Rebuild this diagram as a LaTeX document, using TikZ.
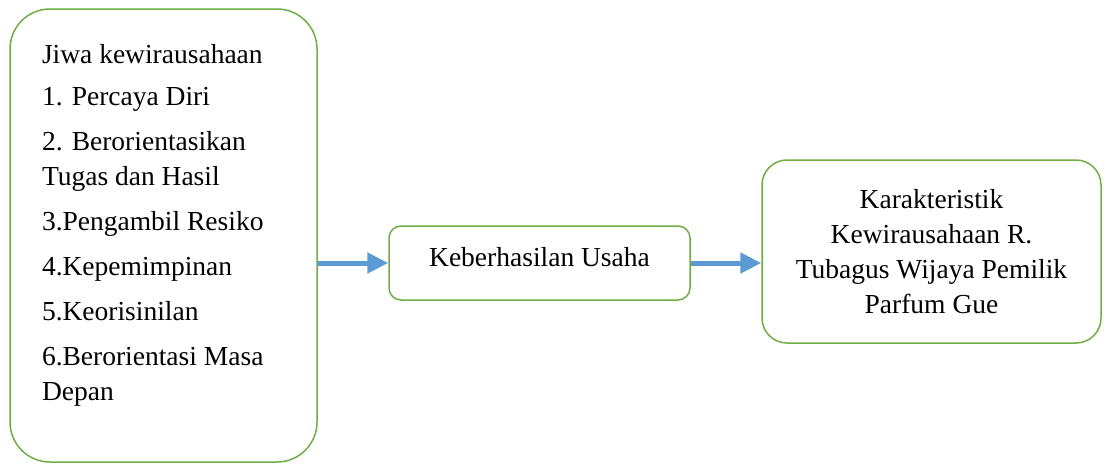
\documentclass[tikz,border=0pt]{standalone}
\usepackage{fontspec}
\setmainfont{Liberation Serif}
\usetikzlibrary{arrows.meta}
\definecolor{boxgreen}{RGB}{112,173,71}
\definecolor{arrowblue}{RGB}{91,155,213}
\begin{document}
\begin{tikzpicture}[
        x=1pt,
        y=-1pt,
        box/.style={
            rectangle,
            rounded corners=#1,
            draw=boxgreen,
            line width=1.5pt,
            inner sep=0pt,
            font=\fontsize{27.5}{35}\selectfont
        },
        arrow/.style={
            -{Triangle[length=21pt,width=20pt]},
            line width=5pt,
            draw=arrowblue
        }
    ]

        \useasboundingbox (0,0) rectangle (1104,464);

        \node[box=40pt, minimum width=307pt, minimum height=453pt, text width=243pt, align=flush left] (jiwa) at (163.5,235.5)
            {Jiwa kewirausahaan\\[7pt]
             1. Percaya Diri\\[10pt]
             2. Berorientasikan\\Tugas dan Hasil\\[10pt]
             3.Pengambil Resiko\\[10pt]
             4.Kepemimpinan\\[10pt]
             5.Keorisinilan\\[10pt]
             6.Berorientasi Masa\\Depan\\[-9pt]\mbox{}};
        \node[box=12pt, minimum width=301pt, minimum height=74pt, text depth=13pt] (usaha) at (539.5,263) {Keberhasilan Usaha};
        \node[box=25pt, minimum width=339pt, minimum height=183pt, align=center] (karakter) at (931.5,251.5)
            {Karakteristik\\Kewirausahaan R.\\Tubagus Wijaya Pemilik\\Parfum Gue};

        \draw[arrow] (jiwa.east |- usaha.west) -- (usaha.west);
        \draw[arrow] (usaha.east) -- (usaha.east -| karakter.west);

    \end{tikzpicture}
\end{document}
